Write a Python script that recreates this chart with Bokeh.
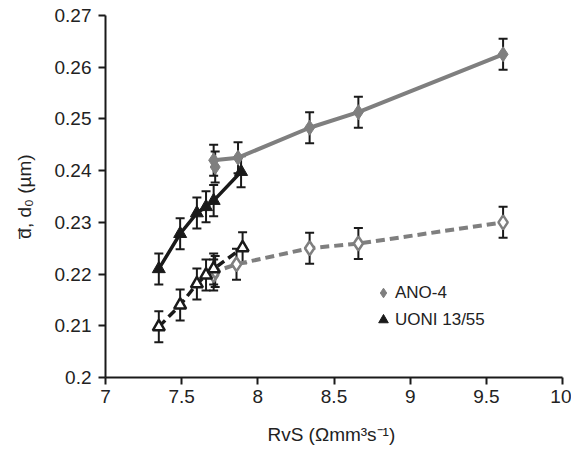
from bokeh.plotting import figure
from bokeh.models import (ColumnDataSource, Whisker, TeeHead, FixedTicker,
                          PrintfTickFormatter, Legend, LegendItem, Range1d)
from bokeh.embed import file_html
from bokeh.resources import INLINE

# ---- data ----
ano_solid_x = [7.72, 7.71, 7.87, 8.34, 8.66, 9.61]
ano_solid_y = [0.2407, 0.2420, 0.2425, 0.2483, 0.2513, 0.2625]
ano_open_x = [7.71, 7.72, 7.86, 8.34, 8.66, 9.61]
ano_open_y = [0.2198, 0.2205, 0.2219, 0.2250, 0.2259, 0.2300]
uoni_solid_x = [7.35, 7.49, 7.60, 7.66, 7.71, 7.89]
uoni_solid_y = [0.2210, 0.2278, 0.2318, 0.2330, 0.2342, 0.2398]
uoni_open_x = [7.35, 7.49, 7.60, 7.66, 7.71, 7.90]
uoni_open_y = [0.2098, 0.2140, 0.2181, 0.2198, 0.2210, 0.2251]
err = 0.003

x_ticks = [7, 7.5, 8, 8.5, 9, 9.5, 10]
y_ticks = [0.2, 0.21, 0.22, 0.23, 0.24, 0.25, 0.26, 0.27]
legend_labels = ["ANO-4", "UONI 13/55"]

GRAY = "#7f7f7f"
BLACK = "#1a1a1a"
FONT = "Liberation Sans"

p = figure(output_backend="svg", toolbar_location=None,
           width=571, height=453,
           x_range=Range1d(7, 10), y_range=Range1d(0.2, 0.27),
           min_border_left=105, min_border_right=9,
           min_border_top=15, min_border_bottom=76)
p.outline_line_color = None
p.grid.visible = False
p.background_fill_color = "white"
p.border_fill_color = "white"

for ax in (p.xaxis[0], p.yaxis[0]):
    ax.axis_line_width = 2
    ax.axis_line_color = BLACK
    ax.major_tick_line_width = 2
    ax.major_tick_line_color = BLACK
    ax.major_tick_out = 7
    ax.major_tick_in = 0
    ax.minor_tick_line_color = None
    ax.major_label_text_font = FONT
    ax.major_label_text_font_size = "19px"
    ax.major_label_text_color = "#222222"
    ax.axis_label_text_font = FONT
    ax.axis_label_text_font_size = "19px"
    ax.axis_label_text_font_style = "normal"
    ax.axis_label_text_color = "#222222"
    ax.formatter = PrintfTickFormatter(format="%g")

p.xaxis[0].ticker = FixedTicker(ticks=x_ticks)
p.yaxis[0].ticker = FixedTicker(ticks=y_ticks)
p.xaxis[0].axis_label = "RvS  (\u03a9mm\u00b3s\u207b\u00b9)"
p.yaxis[0].axis_label = "d\u0305, d\u2080 (\u00b5m)"
p.xaxis[0].major_label_standoff = 5
p.yaxis[0].major_label_standoff = 7
p.xaxis[0].axis_label_standoff = 18
p.yaxis[0].axis_label_standoff = 17


def add_errors(xs, ys):
    src = ColumnDataSource(dict(x=xs, lower=[v - err for v in ys],
                                upper=[v + err for v in ys]))
    w = Whisker(base="x", lower="lower", upper="upper", source=src,
                line_color=BLACK, line_width=2, level="underlay",
                upper_head=TeeHead(size=9, line_color=BLACK, line_width=2),
                lower_head=TeeHead(size=9, line_color=BLACK, line_width=2))
    p.add_layout(w)


for xs, ys in [(ano_solid_x, ano_solid_y), (ano_open_x, ano_open_y),
               (uoni_solid_x, uoni_solid_y), (uoni_open_x, uoni_open_y)]:
    add_errors(xs, ys)

p.line(ano_solid_x, ano_solid_y, line_color=GRAY, line_width=4)
p.line(ano_open_x, ano_open_y, line_color=GRAY, line_width=4, line_dash="9 5")
p.line(uoni_solid_x, uoni_solid_y, line_color=BLACK, line_width=3.5)
p.line(uoni_open_x, uoni_open_y, line_color=BLACK, line_width=3.5, line_dash="9 5")

r_ano = p.scatter(ano_solid_x, ano_solid_y, marker="diamond", size=15,
                  fill_color=GRAY, line_color=GRAY, line_width=1)
p.scatter(ano_open_x, ano_open_y, marker="diamond", size=14,
          fill_color="white", line_color=GRAY, line_width=2.5)
r_uoni = p.scatter(uoni_solid_x, uoni_solid_y, marker="triangle", size=13,
                   fill_color=BLACK, line_color=BLACK, line_width=1)
p.scatter(uoni_open_x, uoni_open_y, marker="triangle", size=12,
          fill_color="white", line_color=BLACK, line_width=2.5)

legend = Legend(items=[LegendItem(label=legend_labels[0], renderers=[r_ano]),
                       LegendItem(label=legend_labels[1], renderers=[r_uoni])],
                location=(266, 44), padding=0, margin=0, spacing=0,
                glyph_width=24, glyph_height=27, label_standoff=0,
                label_height=27,
                border_line_color=None, background_fill_alpha=0,
                label_text_font=FONT, label_text_font_size="17px",
                label_text_color="#222222")
p.add_layout(legend)

open("out.html", "w").write(file_html(p, INLINE))
